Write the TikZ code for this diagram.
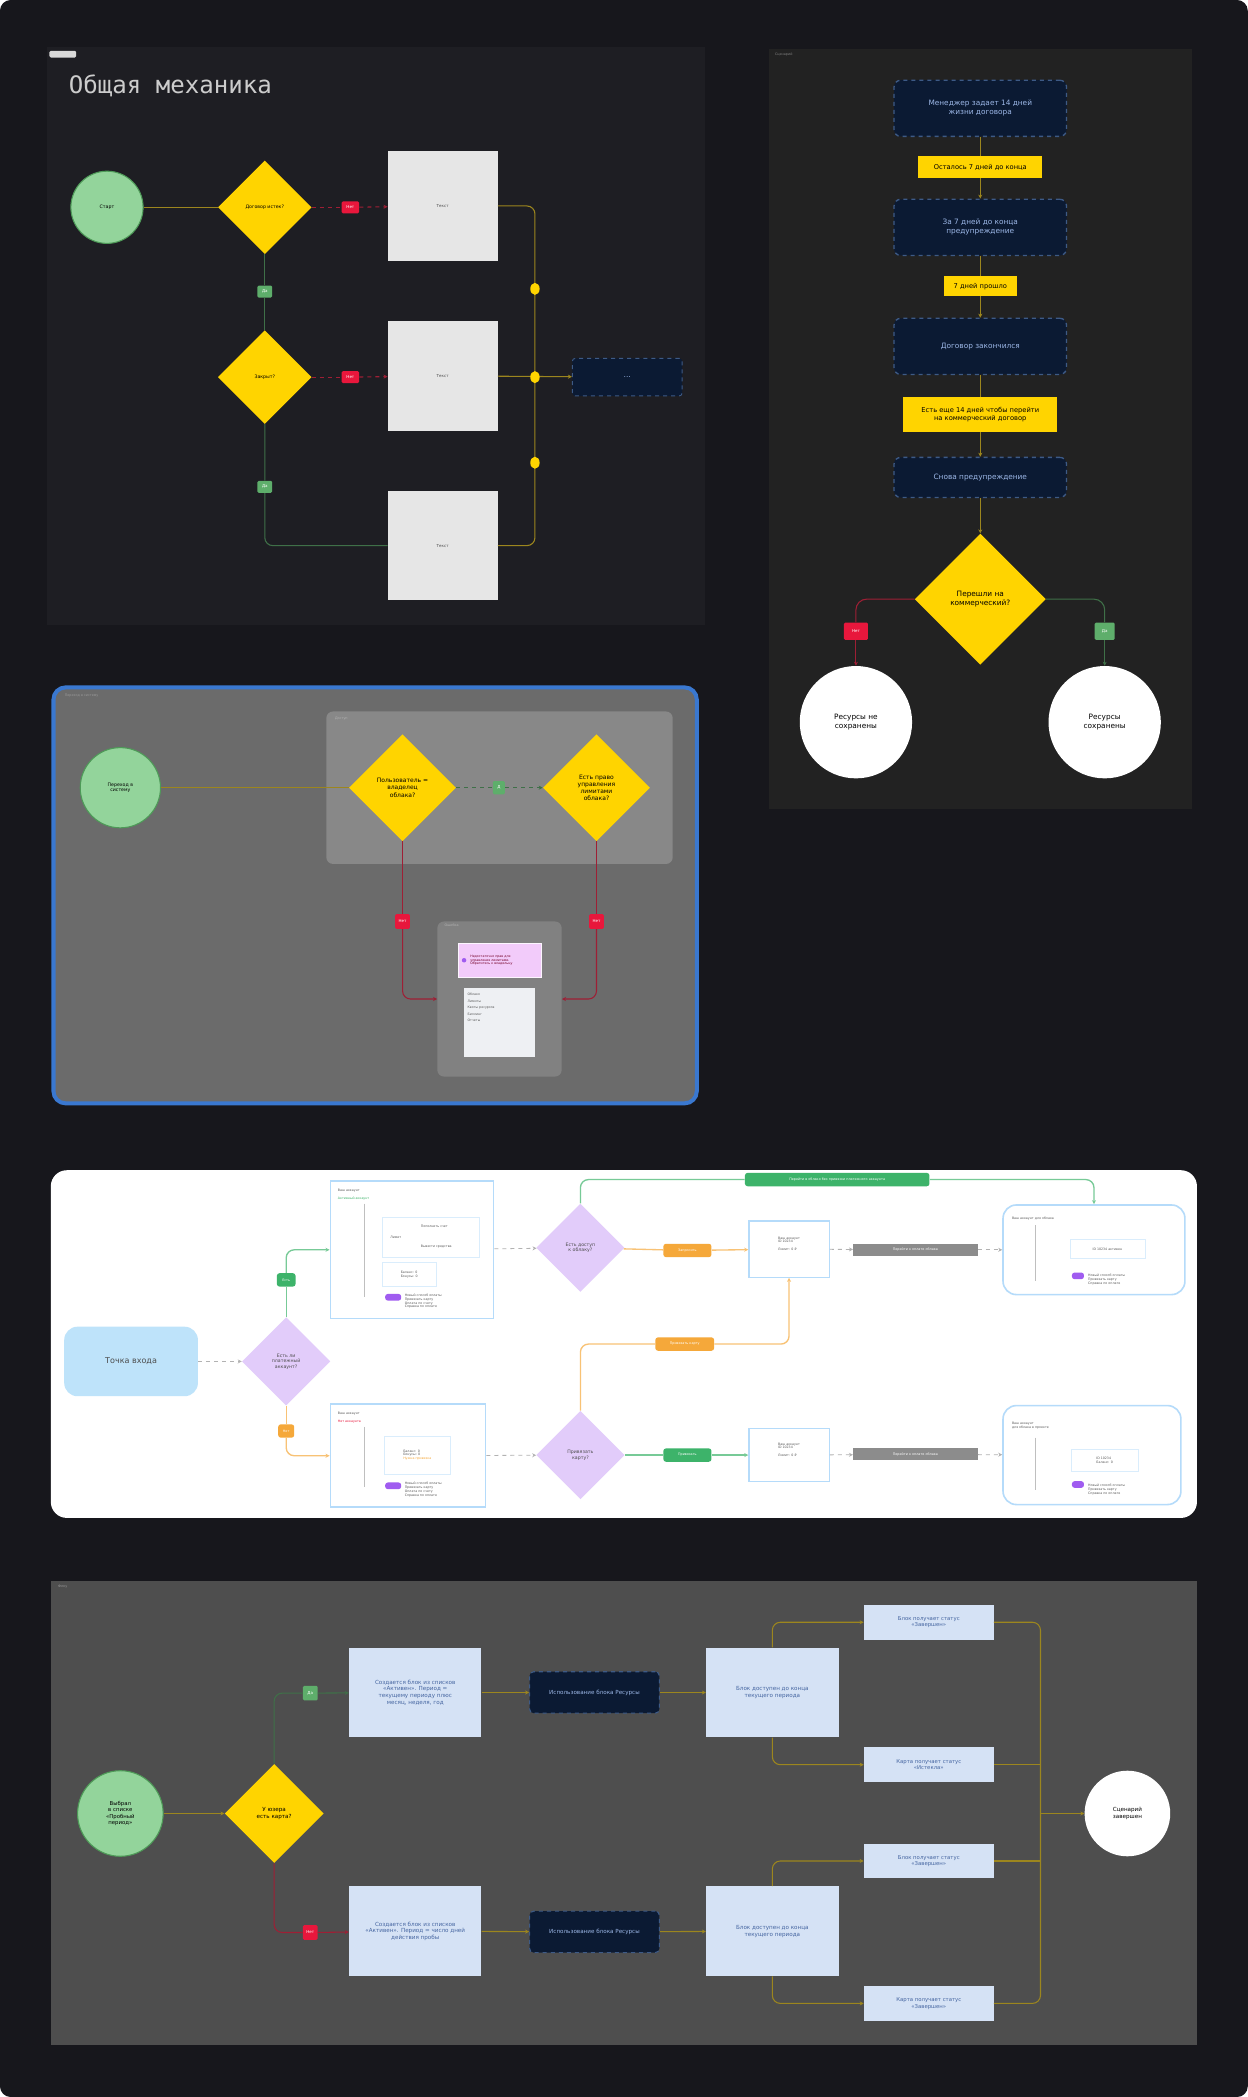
\documentclass[tikz,border=0pt]{standalone}
\usepackage{fontspec}
\setmainfont{DejaVu Sans}
\newfontfamily\monofont{DejaVu Sans Mono}
\usetikzlibrary{shapes.geometric,arrows.meta,positioning}

\definecolor{bgdark}{HTML}{17171C}
\definecolor{panelone}{HTML}{1E1E23}
\definecolor{paneltwo}{HTML}{222222}
\definecolor{ygold}{HTML}{FFD400}
\definecolor{yline}{HTML}{9C861E}
\definecolor{rlabel}{HTML}{E8173C}
\definecolor{rline}{HTML}{9E1F35}
\definecolor{glabel}{HTML}{5EAE6B}
\definecolor{gline}{HTML}{3F7048}
\definecolor{navy}{HTML}{0B1A33}
\definecolor{navyedge}{HTML}{3D5A86}
\definecolor{navytext}{HTML}{9DB8E8}
\definecolor{boxgray}{HTML}{E6E6E6}
\definecolor{startgreen}{HTML}{93D49B}
\definecolor{startedge}{HTML}{4E9A58}
\definecolor{pthree}{HTML}{6B6B6B}
\definecolor{pthreeedge}{HTML}{3A78D0}
\definecolor{pthreein}{HTML}{888888}
\definecolor{purplebox}{HTML}{F2CBFA}
\definecolor{listbox}{HTML}{EEF0F3}
\definecolor{entryblue}{HTML}{BEE3FA}
\definecolor{pdiam}{HTML}{E2CCFA}
\definecolor{cardedge}{HTML}{B5DBFA}
\definecolor{ogold}{HTML}{F5A83A}
\definecolor{ggreen}{HTML}{3DB36A}
\definecolor{bargray}{HTML}{8C8C8C}
\definecolor{pfive}{HTML}{4E4E4E}
\definecolor{lbox}{HTML}{D5E2F5}
\definecolor{lboxtext}{HTML}{4565A0}
\definecolor{pill}{HTML}{A05CF0}

\tikzset{
  fs/.style={font=\fontsize{#1}{1.2\dimexpr#1pt\relax}\selectfont},
  startcirc/.style={circle, fill=startgreen, draw=startedge, line width=0.8pt, inner sep=0pt, align=center, fs=3.5},
  endcirc/.style={circle, fill=white, inner sep=0pt, align=center, fs=5.5},
  ydiamond/.style={diamond, aspect=1, fill=ygold, inner sep=0pt, align=center, fs=3.5},
  pdiamond/.style={diamond, aspect=1, fill=pdiam, inner sep=0pt, align=center, fs=3.5, text=black!70},
  graybox/.style={rectangle, fill=boxgray, minimum width=82pt, minimum height=82pt, fs=3, text=black!70},
  navybox/.style={rectangle, rounded corners=5pt, fill=navy, draw=navyedge, dashed, line width=1pt, text=navytext, align=center, fs=5.5, minimum width=129pt, minimum height=42pt},
  ytag/.style={rectangle, fill=ygold, align=center, fs=5, inner sep=1.5pt},
  notag/.style={rectangle, rounded corners=1pt, fill=rlabel, text=white, fs=3, minimum width=13pt, minimum height=9pt, inner sep=0pt},
  yestag/.style={rectangle, rounded corners=1pt, fill=glabel, text=white, fs=3, minimum width=11pt, minimum height=9pt, inner sep=0pt},
  ydot/.style={ellipse, fill=ygold, minimum width=7pt, minimum height=9pt, inner sep=0pt},
  yflow/.style={draw=yline, line width=0.8pt, -{Stealth[length=3pt,width=3pt]}},
  ycon/.style={draw=yline, line width=0.8pt},
  rcon/.style={draw=rline, line width=0.8pt},
  rflow/.style={draw=rline, line width=0.8pt, -{Stealth[length=3pt,width=3pt]}},
  gcon/.style={draw=gline, line width=0.8pt},
  gflow/.style={draw=gline, line width=0.8pt, -{Stealth[length=3pt,width=3pt]}},
  card/.style={rectangle, draw=cardedge, line width=1.2pt, fill=white},
  tinytxt/.style={fs=2.4, text=black!65, inner sep=0.5pt},
  treeline/.style={draw=black!25, line width=0.3pt},
  otag/.style={rectangle, rounded corners=2pt, fill=ogold, text=white, fs=2.5, minimum height=10pt, inner sep=0pt},
  gtag/.style={rectangle, rounded corners=2pt, fill=ggreen, text=white, fs=2.5, minimum height=10pt, inner sep=0pt},
  wflow/.style={draw=black!30, line width=0.6pt, dashed, -{Stealth[length=3pt,width=3pt]}},
  oflow/.style={draw=ogold!70, line width=1pt, -{Stealth[length=3pt,width=3pt]}},
  ocon/.style={draw=ogold!70, line width=1pt},
  grflow/.style={draw=ggreen!70, line width=1pt, -{Stealth[length=3pt,width=3pt]}},
  grcon/.style={draw=ggreen!70, line width=1pt},
  lightbox/.style={rectangle, fill=lbox, text=lboxtext, align=center, fs=4.2, minimum width=99pt, minimum height=67pt},
  smallbox/.style={rectangle, fill=lbox, text=lboxtext, align=center, fs=4, minimum width=97pt, minimum height=26pt}
}

\begin{document}
\begin{tikzpicture}[x=1pt, y=-1pt]
\useasboundingbox (0,0) rectangle (933,1568);
\fill[white] (0,0) rectangle (933,1568);
\fill[bgdark, rounded corners=8pt] (0,0) rectangle (933,1568);

% ---------- общая механика ----------
\fill[panelone] (35,35) rectangle (527,467);
\fill[white!85!black, rounded corners=1pt] (37,38) rectangle (57,43);
\node[anchor=west, font=\monofont\fontsize{18}{18}\selectfont, text=white!80!black] (title) at (48,64) {Общая механика};

\node[startcirc, minimum size=54pt] (start) at (80,155) {Старт};
\node[ydiamond, minimum size=70pt] (q1) at (198,155) {Договор истек?};
\node[notag] (n1) at (262,155) {Нет};
\node[graybox] (b1) at (331,154) {Текст};
\node[yestag] (y1) at (198,218) {Да};
\node[ydiamond, minimum size=70pt] (q2) at (198,282) {Закрыт?};
\node[notag] (n2) at (262,282) {Нет};
\node[graybox] (b2) at (331,281) {Текст};
\node[yestag] (y2) at (198,364) {Да};
\node[graybox] (b3) at (331,408) {Текст};
\node[navybox, minimum width=82pt, minimum height=28pt, line width=0.7pt, rounded corners=2pt] (res) at (469,282) {…};

\draw[ycon] (start) -- (q1);
\draw[rcon, dashed] (q1) -- (n1);
\draw[rflow, dashed] (n1) -- (b1);
\draw[gcon] (q1) -- (y1) -- (q2);
\draw[rcon, dashed] (q2) -- (n2);
\draw[rflow, dashed] (n2) -- (b2);
\draw[gcon, rounded corners=6pt] (q2) -- (y2) |- (b3);
\draw[ycon, rounded corners=6pt] (b1.east) -| (400,282) |- (b3.east);
\draw[yflow] (b2) -- (res);
\node[ydot] (d1) at (400,216) {};
\node[ydot] (d2) at (400,282) {};
\node[ydot] (d3) at (400,346) {};

% ---------- сценарий договора ----------
\fill[paneltwo] (575,37) rectangle (891,605);
\node[anchor=west, fs=2.5, text=white!50!black] (tagtwo) at (576,41) {Сценарий};

\node[navybox] (s1) at (733,81) {Менеджер задает 14 дней\\жизни договора};
\node[ytag, minimum width=93pt, minimum height=16pt] (e1) at (733,125) {Осталось 7 дней до конца};
\node[navybox] (s2) at (733,170) {За 7 дней до конца\\предупреждение};
\node[ytag, minimum width=55pt, minimum height=15pt] (e2) at (733,214) {7 дней прошло};
\node[navybox] (s3) at (733,259) {Договор закончился};
\node[ytag, minimum width=115pt, minimum height=26pt] (e3) at (733,310) {Есть еще 14 дней чтобы перейти\\на коммерческий договор};
\node[navybox, minimum height=30pt] (s4) at (733,357) {Снова предупреждение};
\node[ydiamond, minimum size=98pt, fs=5.5] (q3) at (733,448) {Перешли на\\коммерческий?};
\node[notag, minimum width=18pt, minimum height=13pt] (n3) at (640,472) {Нет};
\node[yestag, minimum width=15pt, minimum height=13pt] (y3) at (826,472) {Да};
\node[endcirc, minimum size=84pt] (lost) at (640,540) {Ресурсы не\\сохранены};
\node[endcirc, minimum size=84pt] (kept) at (826,540) {Ресурсы\\сохранены};

\draw[ycon] (s1) -- (e1);
\draw[yflow] (e1) -- (s2);
\draw[ycon] (s2) -- (e2);
\draw[yflow] (e2) -- (s3);
\draw[ycon] (s3) -- (e3);
\draw[yflow] (e3) -- (s4);
\draw[yflow] (s4) -- (q3);
\draw[rcon, rounded corners=8pt] (q3.west) -| (n3);
\draw[rflow] (n3) -- (lost);
\draw[gcon, rounded corners=8pt] (q3.east) -| (y3);
\draw[gflow] (y3) -- (kept);

% ---------- переход в систему ----------
\draw[draw=pthreeedge, fill=pthree, line width=3pt, rounded corners=9pt] (40,514) rectangle (521,825);
\node[anchor=west, fs=2.5, text=white!60!black] (tagthree) at (45,520) {Переход в систему};
\fill[pthreein, rounded corners=5pt] (244,532) rectangle (503,646);
\node[anchor=west, fs=2.5, text=white!70!black] (tagaccess) at (247,537) {Доступ};
\node[startcirc, minimum size=60pt] (enter) at (90,589) {Переход в\\систему};
\node[ydiamond, minimum size=80pt, fs=4.5] (q4) at (301,589) {Пользователь =\\владелец\\облака?};
\node[yestag, minimum width=9pt, minimum height=10pt] (y4) at (373,589) {Д};
\node[ydiamond, minimum size=80pt, fs=4.5] (q5) at (446,589) {Есть право\\управления\\лимитами\\облака?};
\node[notag, minimum width=11pt, minimum height=11pt] (n4) at (301,689) {Нет};
\node[notag, minimum width=11pt, minimum height=11pt] (n5) at (446,689) {Нет};
\node[rectangle, rounded corners=5pt, fill=pthreein!95!black, minimum width=93pt, minimum height=116pt] (err) at (373.5,747) {};
\node[anchor=west, fs=2.5, text=white!70!black] (tagerr) at (329,692) {Ошибка};
\node[rectangle, fill=purplebox, draw=white!80!purplebox, minimum width=62pt, minimum height=26pt] (warn) at (374,718) {};
\node[circle, fill=pill, inner sep=1.2pt] (warndot) at (347,718) {};
\node[anchor=west, tinytxt, align=left, text=purple!60!black] (warntxt) at (351,718) {Недостаточно прав для\\управления лимитами.\\Обратитесь к владельцу};
\node[rectangle, fill=listbox, minimum width=53pt, minimum height=51pt] (menu) at (373.5,764.5) {};
\node[anchor=north west, tinytxt, align=left] (menutxt) at (349,742) {Облако\\[2pt]Лимиты\\[2pt]Квоты ресурсов\\[2pt]Биллинг\\[2pt]Отчеты};

\draw[ycon] (enter) -- (q4);
\draw[gcon, dashed] (q4) -- (y4);
\draw[gflow, dashed] (y4) -- (q5);
\draw[rcon] (q4) -- (n4);
\draw[rflow, rounded corners=6pt] (n4) |- (err.west);
\draw[rcon] (q5) -- (n5);
\draw[rflow, rounded corners=6pt] (n5) |- (err.east);

% ---------- точка входа ----------
\fill[white, rounded corners=12pt] (38,875) rectangle (895,1135);
\node[rectangle, rounded corners=10pt, fill=entryblue, minimum width=100pt, minimum height=52pt, fs=6, text=black!70] (entry) at (98,1018) {Точка входа};
\node[pdiamond, minimum size=66pt] (q6) at (214,1018) {Есть ли\\платежный\\аккаунт?};
\node[gtag, minimum width=14pt] (y6) at (214,957) {Есть};
\node[otag, minimum width=12pt] (n6) at (214,1070) {Нет};

\node[card, minimum width=122pt, minimum height=103pt] (c1) at (308,934.5) {};
\node[anchor=west, tinytxt] (c1h) at (252,890) {Ваш аккаунт};
\node[anchor=west, tinytxt, text=ggreen] (c1s) at (252,896) {Активный аккаунт};
\draw[treeline] (272,900) -- (272,970);
\node[rectangle, draw=cardedge!50, minimum width=72pt, minimum height=30pt] (c1a) at (322,925) {};
\node[tinytxt] (c1a1) at (296,925) {Лимит};
\node[anchor=west, tinytxt] (c1a2) at (314,917) {Пополнить счет};
\node[anchor=west, tinytxt] (c1a3) at (314,932) {Вывести средства};
\node[rectangle, draw=cardedge!50, minimum width=40pt, minimum height=18pt] (c1b) at (306,953) {};
\node[tinytxt, align=left] (c1b1) at (306,953) {Баланс: 0\\Бонусы: 0};
\node[rectangle, rounded corners=2pt, fill=pill, minimum width=12pt, minimum height=5pt, inner sep=0pt] (c1p) at (294,970) {};
\node[anchor=west, tinytxt, align=left] (c1pt) at (302,973) {Новый способ оплаты\\Привязать карту\\Оплата по счету\\Справка по оплате};

\node[card, minimum width=116pt, minimum height=77pt] (c2) at (305,1088.5) {};
\node[anchor=west, tinytxt] (c2h) at (252,1057) {Ваш аккаунт};
\node[anchor=west, tinytxt, text=rlabel] (c2s) at (252,1063) {Нет аккаунта};
\draw[treeline] (272,1067) -- (272,1112);
\node[rectangle, draw=cardedge!50, minimum width=50pt, minimum height=28pt] (c2a) at (312,1088) {};
\node[tinytxt, align=left] (c2a1) at (312,1088) {Баланс: 0\\Бонусы: 0\\\textcolor{ogold}{Нужна привязка}};
\node[rectangle, rounded corners=2pt, fill=pill, minimum width=12pt, minimum height=5pt, inner sep=0pt] (c2p) at (294,1111) {};
\node[anchor=west, tinytxt, align=left] (c2pt) at (302,1114) {Новый способ оплаты\\Привязать карту\\Оплата по счету\\Справка по оплате};

\node[pdiamond, minimum size=66pt] (q7) at (434,933) {Есть доступ\\к облаку?};
\node[pdiamond, minimum size=66pt] (q8) at (434,1088) {Привязать\\карту?};
\node[otag, minimum width=36pt] (o1) at (514,935) {Запросить};
\node[gtag, minimum width=36pt] (g1) at (514,1088) {Привязать};
\node[otag, minimum width=44pt] (o2) at (512,1005) {Привязать карту};
\node[card, line width=1pt, minimum width=60pt, minimum height=42pt] (sc1) at (590,934) {};
\node[tinytxt, align=left] (sc1t) at (590,930) {Ваш аккаунт\\ID 10234\\[3pt]Лимит: 0 ₽};
\node[card, line width=1pt, minimum width=60pt, minimum height=40pt] (sc2) at (590,1088) {};
\node[tinytxt, align=left] (sc2t) at (590,1084) {Ваш аккаунт\\ID 10234\\[3pt]Лимит: 0 ₽};
\node[rectangle, fill=bargray, text=white, fs=2.5, minimum width=93pt, minimum height=9pt, inner sep=0pt] (gb1) at (684.5,934.5) {Перейти к оплате облака};
\node[rectangle, fill=bargray, text=white, fs=2.5, minimum width=93pt, minimum height=9pt, inner sep=0pt] (gb2) at (684.5,1087.5) {Перейти к оплате облака};
\node[card, rounded corners=10pt, minimum width=136pt, minimum height=67pt] (rc1) at (818,934.5) {};
\node[anchor=west, tinytxt] (rc1h) at (756,911) {Ваш аккаунт для облака};
\draw[treeline] (774,916) -- (774,958);
\node[rectangle, draw=cardedge!50, minimum width=56pt, minimum height=14pt] (rc1a) at (828,934) {};
\node[tinytxt] (rc1at) at (828,934) {ID 10234 активен};
\node[rectangle, rounded corners=2pt, fill=pill, minimum width=9pt, minimum height=5pt, inner sep=0pt] (rc1p) at (806,954) {};
\node[anchor=west, tinytxt, align=left] (rc1pt) at (813,957) {Новый способ оплаты\\Привязать карту\\Справка по оплате};
\node[card, rounded corners=10pt, minimum width=133pt, minimum height=74pt] (rc2) at (816.5,1088) {};
\node[anchor=west, tinytxt, align=left] (rc2h) at (756,1066) {Ваш аккаунт\\для облака в проекте};
\draw[treeline] (774,1075) -- (774,1114);
\node[rectangle, draw=cardedge!50, minimum width=50pt, minimum height=16pt] (rc2a) at (826,1092) {};
\node[tinytxt, align=left] (rc2at) at (826,1092) {ID 10234\\Баланс: 0};
\node[rectangle, rounded corners=2pt, fill=pill, minimum width=9pt, minimum height=5pt, inner sep=0pt] (rc2p) at (806,1110) {};
\node[anchor=west, tinytxt, align=left] (rc2pt) at (813,1114) {Новый способ оплаты\\Привязать карту\\Справка по оплате};
\node[gtag, minimum width=138pt] (gt) at (626,882) {Перейти в облако без привязки платежного аккаунта};

\draw[wflow] (entry) -- (q6);
\draw[grcon] (q6.north) -- (y6);
\draw[grflow, rounded corners=6pt] (y6) |- (c1.west);
\draw[ocon] (q6.south) -- (n6);
\draw[oflow, rounded corners=6pt] (n6) |- (c2.west);
\draw[wflow] (c1) -- (q7);
\draw[wflow] (c2) -- (q8);
\draw[ocon] (q7) -- (o1);
\draw[oflow] (o1) -- (sc1);
\draw[grcon] (q8) -- (g1);
\draw[grflow] (g1) -- (sc2);
\draw[wflow] (sc1) -- (gb1);
\draw[wflow] (gb1) -- (rc1);
\draw[wflow] (sc2) -- (gb2);
\draw[wflow] (gb2) -- (rc2);
\draw[grcon, rounded corners=6pt] (q7.north) |- (gt.west);
\draw[grflow, rounded corners=6pt] (gt.east) -| (rc1.north);
\draw[ocon, rounded corners=6pt] (q8.north) |- (o2.west);
\draw[oflow, rounded corners=6pt] (o2.east) -| (sc1.south);

% ---------- пробный период ----------
\fill[pfive] (38,1182) rectangle (895,1529);
\node[anchor=west, fs=2.5, text=white!60!black] (tagfive) at (40,1186) {Флоу};
\node[startcirc, minimum size=64pt, fs=4] (pick) at (90,1356) {Выбрал\\в списке\\«Пробный\\период»};
\node[ydiamond, minimum size=74pt, fs=4.2] (q9) at (205,1356) {У юзера\\есть карта?};
\node[yestag, minimum width=11pt, minimum height=11pt] (y9) at (232,1266) {Да};
\node[notag, minimum width=11pt, minimum height=11pt] (n9) at (232,1445) {Нет};
\node[lightbox] (t1) at (310.5,1265.5) {Создается блок из списков\\«Активен». Период =\\текущему периоду плюс\\месяц, неделя, год};
\node[navybox, minimum width=97pt, minimum height=31pt, fs=4.2, line width=0.8pt, rounded corners=3pt] (u1) at (444.5,1265.5) {Использование блока Ресурсы};
\node[lightbox] (p1) at (577.5,1265.5) {Блок доступен до конца\\текущего периода};
\node[smallbox] (f1) at (694.5,1213) {Блок получает статус\\«Завершен»};
\node[smallbox] (f2) at (694.5,1319.5) {Карта получает статус\\«Истекла»};
\node[lightbox] (t2) at (310.5,1444) {Создается блок из списков\\«Активен». Период = число дней\\действия пробы};
\node[navybox, minimum width=97pt, minimum height=31pt, fs=4.2, line width=0.8pt, rounded corners=3pt] (u2) at (444.5,1444.5) {Использование блока Ресурсы};
\node[lightbox] (p2) at (577.5,1444) {Блок доступен до конца\\текущего периода};
\node[smallbox] (f3) at (694.5,1391.5) {Блок получает статус\\«Завершен»};
\node[smallbox] (f4) at (694.5,1498) {Карта получает статус\\«Завершен»};
\node[endcirc, minimum size=64pt, fs=4.2] (done) at (843,1356) {Сценарий\\завершен};
\coordinate (join) at (778,1356);

\draw[yflow] (pick) -- (q9);
\draw[gcon, rounded corners=6pt] (q9.north) |- (y9);
\draw[gflow] (y9) -- (t1);
\draw[rcon, rounded corners=6pt] (q9.south) |- (n9);
\draw[rflow] (n9) -- (t2);
\draw[yflow] (t1) -- (u1);
\draw[yflow] (u1) -- (p1);
\draw[yflow] (t2) -- (u2);
\draw[yflow] (u2) -- (p2);
\draw[yflow, rounded corners=6pt] (p1.north) |- (f1);
\draw[yflow, rounded corners=6pt] (p1.south) |- (f2);
\draw[yflow, rounded corners=6pt] (p2.north) |- (f3);
\draw[yflow, rounded corners=6pt] (p2.south) |- (f4);
\draw[ycon, rounded corners=6pt] (f1.east) -| (join) |- (f4.east);
\draw[ycon] (f2.east) -- (f2.east -| join);
\draw[ycon] (f3.east) -- (f3.east -| join);
\draw[yflow] (join) -- (done);
\end{tikzpicture}
\end{document}
